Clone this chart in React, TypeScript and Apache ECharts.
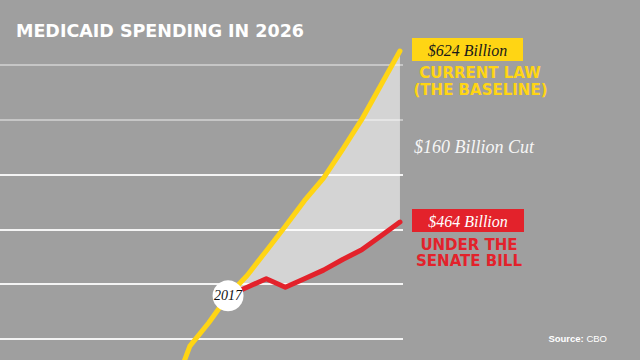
import React, { useEffect, useRef } from "react";
import * as echarts from "echarts";

// Years and values (in $ billions)
const baselineYears = [2014, 2015, 2016, 2017, 2018, 2019, 2020, 2021, 2022, 2023, 2024, 2025, 2026];
const baselineValues = [300, 348, 370, 395, 414, 437, 460, 484, 505, 532, 560, 592, 624];
const senateYears = [2017, 2018, 2019, 2020, 2021, 2022, 2023, 2024, 2025, 2026];
const senateValues = [395, 403, 411, 403, 411, 419, 429, 438, 451, 464];
const gridLineCount = [0, 1, 2, 3, 4, 5];
const gridLineColors = ["#f4f4f4", "#f4f4f4", "#f4f4f4", "#f4f4f4", "#c6c6c6", "#c6c6c6"];

const title = "MEDICAID SPENDING IN 2026";
const baselineLabel = "$624 Billion";
const baselineNameLines = ["CURRENT LAW", "(THE BASELINE)"];
const cutLabel = "$160 Billion Cut";
const senateLabel = "$464 Billion";
const senateNameLines = ["UNDER THE", "SENATE BILL"];
const startYearLabel = "2017";

const BG = "#9f9f9f";
const YELLOW = "#FFD514";
const RED = "#E3222B";
const SANS = "'DejaVu Sans', sans-serif";
const SERIF = "'Liberation Serif', serif";

export default function App() {
  const ref = useRef<HTMLDivElement>(null);

  useEffect(() => {
    if (!ref.current) return;
    const chart = echarts.init(ref.current, null, { renderer: "svg" });
    const baselinePairs = baselineYears.map((y, i) => [y, baselineValues[i]]);
    const senatePairs = senateYears.map((y, i) => [y, senateValues[i]]);

    chart.setOption({
      animation: false,
      backgroundColor: BG,
      grid: { left: 0, right: 237, top: 65, bottom: 21, containLabel: false },
      xAxis: {
        type: "value",
        min: 2005.06,
        max: 2026.16,
        show: false,
        splitLine: { show: false },
      },
      yAxis: [
        {
          type: "value",
          min: 354.6,
          max: 610.9,
          show: false,
          splitLine: { show: false },
        },
        {
          type: "value",
          min: gridLineCount[0],
          max: gridLineCount[gridLineCount.length - 1],
          interval: 1,
          show: true,
          axisLine: { show: false },
          axisTick: { show: false },
          axisLabel: { show: false },
          splitLine: { show: true, lineStyle: { color: gridLineColors, width: 2 } },
        },
      ],
      series: [
        {
          type: "custom",
          xAxisIndex: 0,
          yAxisIndex: 0,
          silent: true,
          z: 1,
          data: [[senateYears[0], senateValues[0]]],
          renderItem: (_params: any, api: any) => {
            const top = senateYears.map((y) => api.coord([y, baselineValues[baselineYears.indexOf(y)]]));
            const bottom = senateYears.map((y, i) => api.coord([y, senateValues[i]])).reverse();
            return {
              type: "polygon",
              shape: { points: top.concat(bottom) },
              style: { fill: "rgba(255,255,255,0.55)" },
            };
          },
        },
        {
          type: "line",
          yAxisIndex: 0,
          data: baselinePairs,
          showSymbol: false,
          clip: false,
          z: 3,
          lineStyle: { color: YELLOW, width: 5, cap: "round", join: "round" },
        },
        {
          type: "line",
          yAxisIndex: 0,
          data: senatePairs,
          showSymbol: false,
          clip: false,
          z: 4,
          lineStyle: { color: RED, width: 5, cap: "round", join: "round" },
        },
        {
          type: "scatter",
          yAxisIndex: 0,
          data: [[senateYears[0], senateValues[0]]],
          symbol: "circle",
          symbolSize: 31,
          z: 6,
          itemStyle: { color: "#ffffff", opacity: 1 },
          label: {
            show: true,
            position: "inside",
            formatter: startYearLabel,
            color: "#111111",
            fontFamily: SERIF,
            fontStyle: "italic",
            fontSize: 14,
          },
        },
      ],
      graphic: [
        {
          type: "text",
          left: 16,
          top: 22,
          style: { text: title, fill: "#ffffff", font: `bold 17.5px ${SANS}` },
        },
        { type: "rect", shape: { x: 412, y: 38, width: 111, height: 23 }, style: { fill: YELLOW } },
        {
          type: "text",
          x: 467.5,
          y: 50,
          style: { text: baselineLabel, fill: "#1a1a1a", font: `italic 16px ${SERIF}`, align: "center", verticalAlign: "middle" },
        },
        {
          type: "text",
          x: 480,
          y: 73,
          style: { text: baselineNameLines[0], fill: YELLOW, font: `bold 15px ${SANS}`, align: "center", verticalAlign: "middle" },
        },
        {
          type: "text",
          x: 480.5,
          y: 89.5,
          style: { text: baselineNameLines[1], fill: YELLOW, font: `bold 15px ${SANS}`, align: "center", verticalAlign: "middle" },
        },
        {
          type: "text",
          x: 414,
          y: 147,
          style: { text: cutLabel, fill: "#f6f6f6", font: `italic 18px ${SERIF}`, align: "left", verticalAlign: "middle" },
        },
        { type: "rect", shape: { x: 412, y: 209, width: 112, height: 23 }, style: { fill: RED } },
        {
          type: "text",
          x: 468,
          y: 221,
          style: { text: senateLabel, fill: "#ffffff", font: `italic 16px ${SERIF}`, align: "center", verticalAlign: "middle" },
        },
        {
          type: "text",
          x: 469,
          y: 244.5,
          style: { text: senateNameLines[0], fill: RED, font: `bold 15px ${SANS}`, align: "center", verticalAlign: "middle" },
        },
        {
          type: "text",
          x: 469,
          y: 261,
          style: { text: senateNameLines[1], fill: RED, font: `bold 15px ${SANS}`, align: "center", verticalAlign: "middle" },
        },
        {
          type: "text",
          x: 607,
          y: 338,
          style: {
            text: "{b|Source:} CBO",
            fill: "#ffffff",
            fontFamily: "'Liberation Sans', sans-serif",
            fontSize: 9.5,
            align: "right",
            verticalAlign: "middle",
            rich: { b: { fontWeight: "bold", fontSize: 9.5, fill: "#ffffff", fontFamily: "'Liberation Sans', sans-serif" } },
          },
        },
      ],
    });

    return () => chart.dispose();
  }, []);

  return (
    <div
      ref={ref}
      style={{ position: "absolute", left: 0, top: 0, width: 640, height: 360 }}
    />
  );
}
